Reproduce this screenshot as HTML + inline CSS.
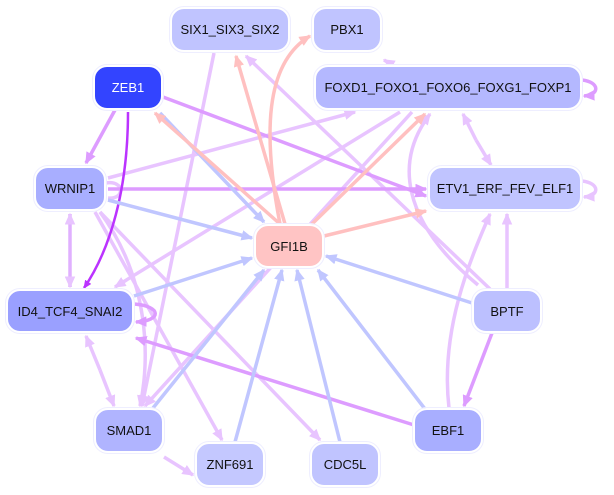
<!DOCTYPE html>
<html><head><style>
body{margin:0;width:614px;height:495px;background:#fff;overflow:hidden;position:relative;font-family:"Liberation Sans",sans-serif}
.n{position:absolute;box-sizing:border-box;border:2px solid #fff;outline:1px solid #eeeeff;border-radius:14px;display:flex;align-items:center;justify-content:center;font-size:13px;color:#111}
svg{position:absolute;left:0;top:0}
</style></head><body>
<svg width="614" height="495" viewBox="0 0 614 495">
<defs>
<marker id="lp" markerWidth="3.4" markerHeight="3" refX="3" refY="1.5" orient="auto" markerUnits="strokeWidth"><path d="M0,0L3.4,1.5L0,3z" fill="#e8c4ff"/></marker>
<marker id="mp" markerWidth="3.4" markerHeight="3" refX="3" refY="1.5" orient="auto" markerUnits="strokeWidth"><path d="M0,0L3.4,1.5L0,3z" fill="#dd9cff"/></marker>
<marker id="dp" markerWidth="3.4" markerHeight="3" refX="3" refY="1.5" orient="auto" markerUnits="strokeWidth"><path d="M0,0L3.4,1.5L0,3z" fill="#bb33ff"/></marker>
<marker id="bl" markerWidth="3.4" markerHeight="3" refX="3" refY="1.5" orient="auto" markerUnits="strokeWidth"><path d="M0,0L3.4,1.5L0,3z" fill="#c0c6ff"/></marker>
<marker id="pk" markerWidth="3.4" markerHeight="3" refX="3" refY="1.5" orient="auto" markerUnits="strokeWidth"><path d="M0,0L3.4,1.5L0,3z" fill="#ffc0c0"/></marker>
</defs>
<g fill="none" stroke-width="3.5">
<path d="M214,53L142,406" stroke="#e8c4ff" marker-end="url(#lp)"/>
<path d="M490,289L246,56" stroke="#e8c4ff" marker-end="url(#lp)"/>
<path d="M405,72L384,60" stroke="#e8c4ff" marker-end="url(#lp)"/>
<path d="M108,178L355,112" stroke="#e8c4ff" marker-end="url(#lp)"/>
<path d="M400,112L115,287" stroke="#e8c4ff" marker-end="url(#lp)"/>
<path d="M412,112L145,406" stroke="#e8c4ff" marker-end="url(#lp)"/>
<path d="M476,140L491,165" stroke="#e8c4ff" marker-end="url(#lp)"/>
<path d="M476,140L463,114" stroke="#e8c4ff" marker-end="url(#lp)"/>
<path d="M478,285C400,220 395,160 430,114" stroke="#e8c4ff" marker-end="url(#lp)"/>
<path d="M449,408C440,330 470,260 490,214" stroke="#e8c4ff" marker-end="url(#lp)"/>
<path d="M507,288L507,214" stroke="#e8c4ff" marker-end="url(#lp)"/>
<path d="M95,212L222,440" stroke="#e8c4ff" marker-end="url(#lp)"/>
<path d="M100,212L320,440" stroke="#e8c4ff" marker-end="url(#lp)"/>
<path d="M100,212C150,280 150,360 140,406" stroke="#e8c4ff" marker-end="url(#lp)"/>
<path d="M164,457L193,475" stroke="#e8c4ff" marker-end="url(#lp)"/>
<path d="M100,370L86,336" stroke="#e8c4ff" marker-end="url(#lp)"/>
<path d="M100,370L114,406" stroke="#e8c4ff" marker-end="url(#lp)"/>
<path d="M70,250L70,214" stroke="#e0b0ff" marker-end="url(#lp)"/>
<path d="M70,250L70,287" stroke="#e0b0ff" marker-end="url(#lp)"/>
<path d="M582,80C600,82 600,95 584,96" stroke="#dd9cff" marker-end="url(#mp)"/>
<path d="M582,181C600,183 600,196 584,197" stroke="#e8c4ff" marker-end="url(#lp)"/>
<path d="M134,304C162,306 162,321 136,322" stroke="#dd9cff" marker-end="url(#mp)"/>
<path d="M106,183C125,180 125,200 108,198" stroke="#e8c4ff"/>
<path d="M115,110L86,163" stroke="#dd9cff" marker-end="url(#mp)"/>
<path d="M163,97L426,196" stroke="#dd9cff" marker-end="url(#mp)"/>
<path d="M108,189L426,189" stroke="#dd9cff" marker-end="url(#mp)"/>
<path d="M414,425L136,338" stroke="#dd9cff" marker-end="url(#mp)"/>
<path d="M492,333L464,406" stroke="#dd9cff" marker-end="url(#mp)"/>
<path d="M128,112C128,190 110,250 84,288" stroke="#bb33ff" stroke-width="2.5" marker-end="url(#dp)"/>
<path d="M160,113L264,222" stroke="#c0c6ff" marker-end="url(#bl)"/>
<path d="M108,200L252,238" stroke="#c0c6ff" marker-end="url(#bl)"/>
<path d="M134,296L252,258" stroke="#c0c6ff" marker-end="url(#bl)"/>
<path d="M153,408L264,270" stroke="#c0c6ff" marker-end="url(#bl)"/>
<path d="M235,442L282,270" stroke="#c0c6ff" marker-end="url(#bl)"/>
<path d="M340,442L297,270" stroke="#c0c6ff" marker-end="url(#bl)"/>
<path d="M425,409L318,270" stroke="#c0c6ff" marker-end="url(#bl)"/>
<path d="M472,303L326,256" stroke="#c0c6ff" marker-end="url(#bl)"/>
<path d="M280,224L155,113" stroke="#ffc0c0" marker-end="url(#pk)"/>
<path d="M285,224L236,56" stroke="#ffc0c0" marker-end="url(#pk)"/>
<path d="M280,224C260,120 270,60 310,36" stroke="#ffc0c0" marker-end="url(#pk)"/>
<path d="M312,224L425,114" stroke="#ffc0c0" marker-end="url(#pk)"/>
<path d="M324,236L426,211" stroke="#ffc0c0" marker-end="url(#pk)"/>
</g>
</svg>
<div class="n" style="left:170px;top:7px;width:120px;height:45px;background:#c0c4ff">SIX1_SIX3_SIX2</div>
<div class="n" style="left:312px;top:7px;width:70px;height:45px;background:#c0c4ff">PBX1</div>
<div class="n" style="left:93px;top:65px;width:70px;height:45px;background:#3344ff;color:#fff">ZEB1</div>
<div class="n" style="left:314px;top:65px;width:268px;height:45px;background:#b4b8ff">FOXD1_FOXO1_FOXO6_FOXG1_FOXP1</div>
<div class="n" style="left:34px;top:166px;width:72px;height:45px;background:#a8aeff">WRNIP1</div>
<div class="n" style="left:428px;top:166px;width:154px;height:45px;background:#c0c4ff">ETV1_ERF_FEV_ELF1</div>
<div class="n" style="left:254px;top:224px;width:70px;height:44px;background:#ffc4c4">GFI1B</div>
<div class="n" style="left:6px;top:289px;width:128px;height:44px;background:#9aa0ff">ID4_TCF4_SNAI2</div>
<div class="n" style="left:472px;top:289px;width:70px;height:44px;background:#bcc0ff">BPTF</div>
<div class="n" style="left:94px;top:408px;width:70px;height:45px;background:#b0b4ff">SMAD1</div>
<div class="n" style="left:413px;top:408px;width:70px;height:45px;background:#a8aeff">EBF1</div>
<div class="n" style="left:195px;top:442px;width:70px;height:45px;background:#c4c8ff">ZNF691</div>
<div class="n" style="left:310px;top:442px;width:70px;height:45px;background:#c0c4ff">CDC5L</div>
</body></html>
